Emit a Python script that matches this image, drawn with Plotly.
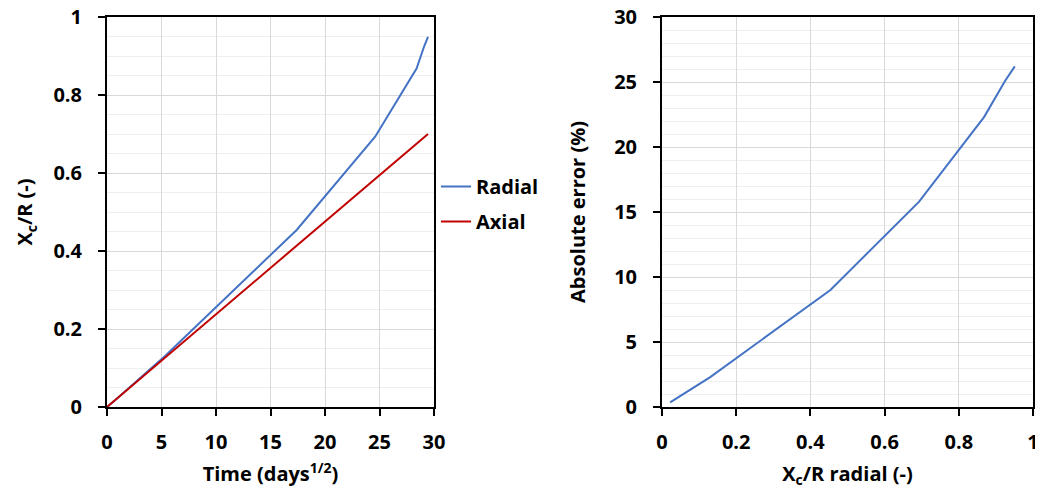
import plotly.graph_objects as go

# Left chart: penetration vs sqrt(time)
time_sqrt = [0, 1.05, 5.3, 17.4, 24.6, 28.4, 29.1, 29.45]
radial = [0, 0.025, 0.13, 0.454, 0.693, 0.868, 0.925, 0.949]
axial = [0, 0.025, 0.126, 0.414, 0.585, 0.675, 0.692, 0.70]

# Right chart: absolute error vs radial penetration
err_x = [0.022, 0.13, 0.454, 0.693, 0.868, 0.925, 0.951]
err_y = [0.35, 2.3, 9.0, 15.8, 22.3, 25.1, 26.2]

left_xticks = [0, 5, 10, 15, 20, 25, 30]
left_yticks = [0, 0.2, 0.4, 0.6, 0.8, 1]
right_xticks = [0, 0.2, 0.4, 0.6, 0.8, 1]
right_yticks = [0, 5, 10, 15, 20, 25, 30]

BLUE = "#4472C4"
RED = "#C00000"
FONT = "Open Sans"
W, H = 1043, 490
OFF = 8                      # default page body margin
FW, FH = W - OFF, H - OFF
FS = 20

def px_x(p):
    return (p - OFF) / FW

def px_y(p):
    return 1 - (p - OFF) / FH

fig = go.Figure()
fig.add_trace(go.Scatter(x=time_sqrt, y=radial, mode="lines", name="Radial",
                         line=dict(color=BLUE, width=2), xaxis="x", yaxis="y",
                         legendgroup="a"))
fig.add_trace(go.Scatter(x=time_sqrt, y=axial, mode="lines", name="Axial",
                         line=dict(color=RED, width=2), xaxis="x", yaxis="y",
                         legendgroup="b"))
fig.add_trace(go.Scatter(x=err_x, y=err_y, mode="lines", name="Error",
                         line=dict(color=BLUE, width=2), xaxis="x2", yaxis="y2",
                         showlegend=False))

tickfont = dict(family=FONT, size=FS, color="black", weight="bold")
titlefont = dict(family=FONT, size=FS, color="black", weight="bold")

def ax(**kw):
    base = dict(showline=True, linecolor="black", linewidth=2, mirror=True,
                ticks="outside", ticklen=7, tickwidth=2, tickcolor="black",
                showgrid=True, gridcolor="#d9d9d9", gridwidth=1,
                zeroline=False, tickfont=tickfont, title_font=titlefont,
                automargin=False, ticklabeloverflow="allow")
    base.update(kw)
    return base

ybot = px_y(407)
ytop = px_y(17)

fig.update_layout(
    width=FW, height=FH,
    margin=dict(l=0, r=0, t=0, b=0),
    paper_bgcolor="white", plot_bgcolor="white",
    showlegend=True,
    legend=dict(x=px_x(436), y=px_y(167), xanchor="left", yanchor="top",
                font=dict(family=FONT, size=FS, color="black", weight="bold"),
                tracegroupgap=6, bgcolor="rgba(0,0,0,0)", itemwidth=30),
    xaxis=ax(domain=[px_x(107), px_x(434)], range=[0, 30], tickvals=left_xticks,
             ticklabelstandoff=9,
             title=dict(text="Time (days<sup>1/2</sup>)", standoff=13),
             anchor="y"),
    yaxis=ax(domain=[ybot, ytop], range=[0, 1], tickvals=left_yticks,
             ticktext=[str(v) for v in left_yticks], ticklabelstandoff=12,
             minor=dict(dtick=0.05, showgrid=True, gridcolor="#efefef", ticks=""),
             title=dict(text="X<sub>c</sub>/R (-)", standoff=15),
             anchor="x"),
    xaxis2=ax(domain=[px_x(662), px_x(1033)], range=[0, 1], tickvals=right_xticks,
              ticktext=[str(v) for v in right_xticks], ticklabelstandoff=9,
              title=dict(text="X<sub>c</sub>/R radial (-)", standoff=13),
              anchor="y2"),
    yaxis2=ax(domain=[ybot, ytop], range=[0, 30], tickvals=right_yticks,
              ticklabelstandoff=12,
              minor=dict(dtick=1, showgrid=True, gridcolor="#efefef", ticks=""),
              title=dict(text="Absolute error (%)", standoff=23),
              anchor="x2"),
)

fig.write_html("out.html")
